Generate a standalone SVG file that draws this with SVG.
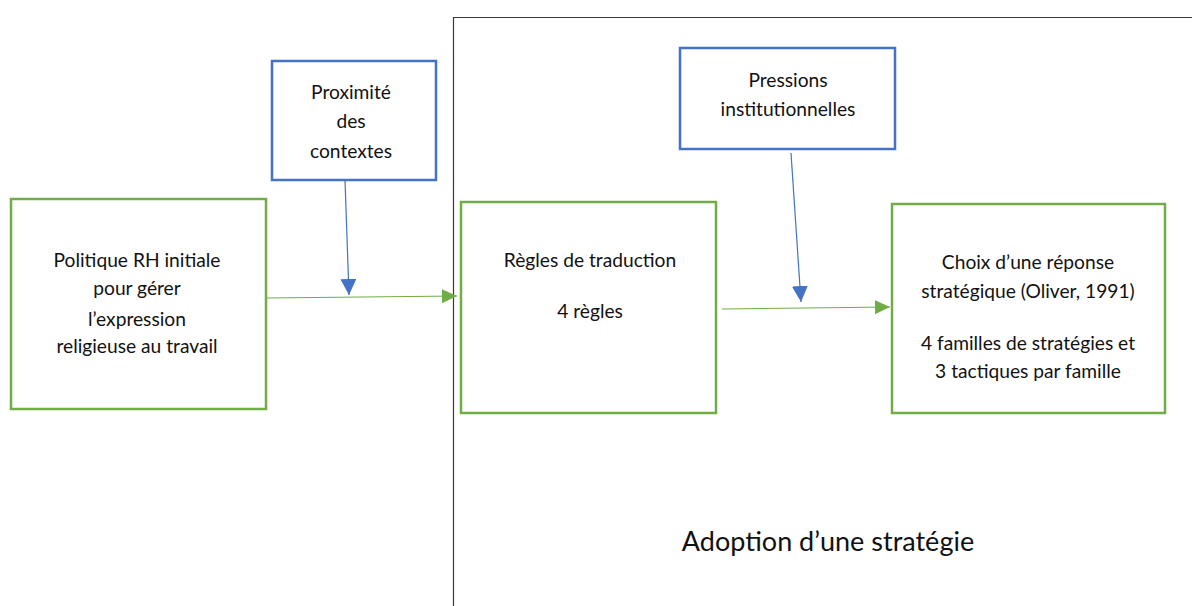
<svg xmlns="http://www.w3.org/2000/svg" width="1192" height="606" viewBox="0 0 1192 606">
  <style>
    .green { fill: #ffffff; stroke: #70AD47; stroke-width: 2.5; }
    .blue { fill: #ffffff; stroke: #4472C4; stroke-width: 2.5; }
    .frame { fill: none; stroke: #3a3a3a; stroke-width: 1.2; }
    .lbl { font-family: Lato, "Open Sans", sans-serif; font-size: 19.2px; fill: #111111; text-anchor: middle; }
    .title { font-family: Lato, "Open Sans", sans-serif; font-size: 27px; fill: #111111; text-anchor: middle; }
    .flow { stroke: #70AD47; stroke-width: 1.2; fill: none; }
    .infl { stroke: #4472C4; stroke-width: 1.2; fill: none; }
  </style>
  <defs>
    <marker id="arrowGreen" markerUnits="userSpaceOnUse" markerWidth="16" markerHeight="16" refX="15" refY="7" orient="auto">
      <path d="M0,0 L15,7 L0,14 Z" fill="#70AD47"/>
    </marker>
    <marker id="arrowBlue" markerUnits="userSpaceOnUse" markerWidth="17" markerHeight="17" refX="16" refY="8" orient="auto">
      <path d="M0,0 L16,8 L0,16 Z" fill="#4472C4"/>
    </marker>
  </defs>

  <rect width="1192" height="606" fill="#ffffff"/>

  <!-- strategy adoption frame -->
  <g id="frame-adoption">
    <path class="frame" d="M453.5,620 V17.5 H1200"/>
    <text class="title" x="828" y="551">Adoption d’une stratégie</text>
  </g>

  <!-- connectors -->
  <g id="connectors">
    <line class="flow" x1="266" y1="298" x2="457" y2="296" marker-end="url(#arrowGreen)"/>
    <line class="flow" x1="722" y1="309" x2="890" y2="307" marker-end="url(#arrowGreen)"/>
    <line class="infl" x1="345" y1="180" x2="349" y2="295" marker-end="url(#arrowBlue)"/>
    <line class="infl" x1="791" y1="153" x2="801" y2="302" marker-end="url(#arrowBlue)"/>
  </g>

  <g id="node-politique">
    <rect class="green" x="11" y="199" width="255" height="210"/>
    <text class="lbl" x="137" y="267">Politique RH initiale</text>
    <text class="lbl" x="137" y="295">pour gérer</text>
    <text class="lbl" x="137" y="326">l’expression</text>
    <text class="lbl" x="137" y="353">religieuse au travail</text>
  </g>

  <g id="node-proximite">
    <rect class="blue" x="272" y="61" width="164" height="119"/>
    <text class="lbl" x="351" y="99">Proximité</text>
    <text class="lbl" x="351" y="128">des</text>
    <text class="lbl" x="351" y="158">contextes</text>
  </g>

  <g id="node-regles">
    <rect class="green" x="461" y="202" width="255" height="211"/>
    <text class="lbl" x="590" y="267">Règles de traduction</text>
    <text class="lbl" x="590" y="318">4 règles</text>
  </g>

  <g id="node-pressions">
    <rect class="blue" x="680" y="48" width="215" height="101"/>
    <text class="lbl" x="788" y="87">Pressions</text>
    <text class="lbl" x="788" y="116">institutionnelles</text>
  </g>

  <g id="node-choix">
    <rect class="green" x="892" y="204" width="273" height="209"/>
    <text class="lbl" x="1028" y="269">Choix d’une réponse</text>
    <text class="lbl" x="1028" y="298">stratégique (Oliver, 1991)</text>
    <text class="lbl" x="1028" y="350">4 familles de stratégies et</text>
    <text class="lbl" x="1028" y="378">3 tactiques par famille</text>
  </g>
</svg>
